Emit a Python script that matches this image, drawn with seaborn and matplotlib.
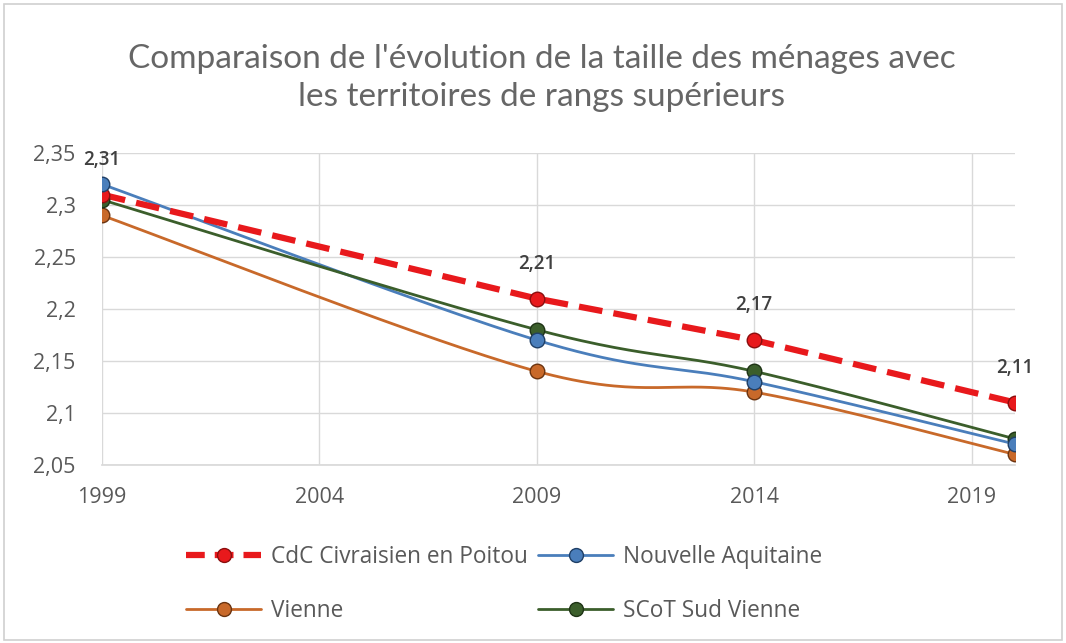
import numpy as np
import pandas as pd
import matplotlib
matplotlib.use("Agg")
import matplotlib.pyplot as plt
from matplotlib.lines import Line2D
from matplotlib.patches import Rectangle
import seaborn as sns

# Household size by territory
years = [1999, 2009, 2014, 2020]
cdc_civraisien = [2.31, 2.21, 2.17, 2.11]
nouvelle_aquitaine = [2.32, 2.17, 2.13, 2.07]
vienne = [2.29, 2.14, 2.12, 2.06]
scot_sud_vienne = [2.305, 2.18, 2.14, 2.075]

series_names = ["CdC Civraisien en Poitou", "Nouvelle Aquitaine", "Vienne", "SCoT Sud Vienne"]
x_ticks = [1999, 2004, 2009, 2014, 2019]
y_ticks = [2.05, 2.1, 2.15, 2.2, 2.25, 2.3, 2.35]
y_tick_labels = ["2,05", "2,1", "2,15", "2,2", "2,25", "2,3", "2,35"]

sns.set_theme(style="white")
plt.rcParams["font.family"] = ["Open Sans", "DejaVu Sans"]

colors = {
    "CdC Civraisien en Poitou": "#e8191c",
    "Nouvelle Aquitaine": "#4a7ebb",
    "Vienne": "#c8692a",
    "SCoT Sud Vienne": "#3b5e2b",
}
edge = {
    "CdC Civraisien en Poitou": "#8b0e0e",
    "Nouvelle Aquitaine": "#1f3f66",
    "Vienne": "#6b3410",
    "SCoT Sud Vienne": "#1e3315",
}
values = {
    "CdC Civraisien en Poitou": cdc_civraisien,
    "Nouvelle Aquitaine": nouvelle_aquitaine,
    "Vienne": vienne,
    "SCoT Sud Vienne": scot_sud_vienne,
}
RED_DASH = (0, (3.8, 1.8))


def smooth(xs, ys, n=60):
    """Bezier smoothing through points (control points at 1/6 of neighbour chord)."""
    P = np.column_stack([xs, ys]).astype(float)
    k = len(P)
    out = []
    for i in range(k - 1):
        p0 = P[max(i - 1, 0)]
        p1 = P[i]
        p2 = P[i + 1]
        p3 = P[min(i + 2, k - 1)]
        c1 = p1 + (p2 - p0) / 6.0
        c2 = p2 - (p3 - p1) / 6.0
        t = np.linspace(0, 1, n)[:, None]
        seg = ((1 - t) ** 3) * p1 + 3 * ((1 - t) ** 2) * t * c1 + 3 * (1 - t) * t ** 2 * c2 + t ** 3 * p2
        out.append(seg if i == 0 else seg[1:])
    arr = np.vstack(out)
    return arr[:, 0], arr[:, 1]


fig = plt.figure(figsize=(10.66, 6.43), dpi=100)
fig.patches.append(Rectangle((0.004, 0.004), 0.992, 0.990, transform=fig.transFigure,
                             fill=False, edgecolor="#d0d0d0", linewidth=1.2))
ax = fig.add_axes([0.0957, 0.277, 0.8565, 0.485])

# smoothed lines first, the dashed line on top
for name in ["Vienne", "Nouvelle Aquitaine", "SCoT Sud Vienne"]:
    sx, sy = smooth(years, values[name])
    sns.lineplot(x=sx, y=sy, ax=ax, color=colors[name], linewidth=2.0, sort=False,
                 estimator=None, zorder=3)

name = "CdC Civraisien en Poitou"
sns.lineplot(x=years, y=values[name], ax=ax, color=colors[name], linewidth=4.5,
             linestyle=RED_DASH, zorder=4)

for name in ["Vienne", "SCoT Sud Vienne", "CdC Civraisien en Poitou", "Nouvelle Aquitaine"]:
    sns.scatterplot(x=years, y=values[name], ax=ax, color=colors[name], s=110,
                    edgecolor=edge[name], linewidth=1.0, zorder=5)

for xv, yv in zip(years, cdc_civraisien):
    ax.annotate(f"{yv:.2f}".replace(".", ","), (xv, yv), xytext=(0, 18),
                textcoords="offset points", ha="center", va="bottom",
                fontsize=13.5, fontweight="semibold", color="#404040", zorder=6)

ax.set_xlim(1999, 2020)
ax.set_ylim(2.05, 2.35)
ax.set_xticks(x_ticks)
ax.set_xticklabels([str(v) for v in x_ticks])
ax.set_yticks(y_ticks)
ax.set_yticklabels(y_tick_labels)
ax.grid(True, color="#d9d9d9", linewidth=1.0)
ax.set_axisbelow(True)
for side in ["top", "right", "left"]:
    ax.spines[side].set_visible(False)
ax.spines["bottom"].set_color("#d9d9d9")
ax.tick_params(axis="both", length=0, labelsize=15.5, colors="#595959")
ax.tick_params(axis="x", pad=16)
ax.tick_params(axis="y", pad=19)
ax.set_xlabel("")
ax.set_ylabel("")

fig.text(0.508, 0.879,
         "Comparaison de l'évolution de la taille des ménages avec\nles territoires de rangs supérieurs",
         ha="center", va="center", fontsize=24, color="#666666", family=["Lato", "DejaVu Sans"],
         linespacing=1.32)

handle_map = {}
for name in series_names:
    if name == "CdC Civraisien en Poitou":
        h = Line2D([], [], color=colors[name], linewidth=4.5, linestyle=(0, (3.0, 1.6)),
                   marker="o", markersize=10, markerfacecolor=colors[name],
                   markeredgecolor=edge[name])
    else:
        h = Line2D([], [], color=colors[name], linewidth=2.0, marker="o", markersize=10,
                   markerfacecolor=colors[name], markeredgecolor=edge[name])
    handle_map[name] = h

# legend is filled column by column: rows read CdC | Nouvelle Aquitaine, Vienne | SCoT
legend_order = ["CdC Civraisien en Poitou", "Vienne", "Nouvelle Aquitaine", "SCoT Sud Vienne"]
fig.legend([handle_map[n] for n in legend_order], legend_order, loc="center",
           bbox_to_anchor=(0.473, 0.092), ncol=2, frameon=False, fontsize=16.3,
           handlelength=3.3, labelspacing=1.3, columnspacing=0.45, handletextpad=0.45,
           labelcolor="#595959")

fig.savefig("out.png", dpi=100)
